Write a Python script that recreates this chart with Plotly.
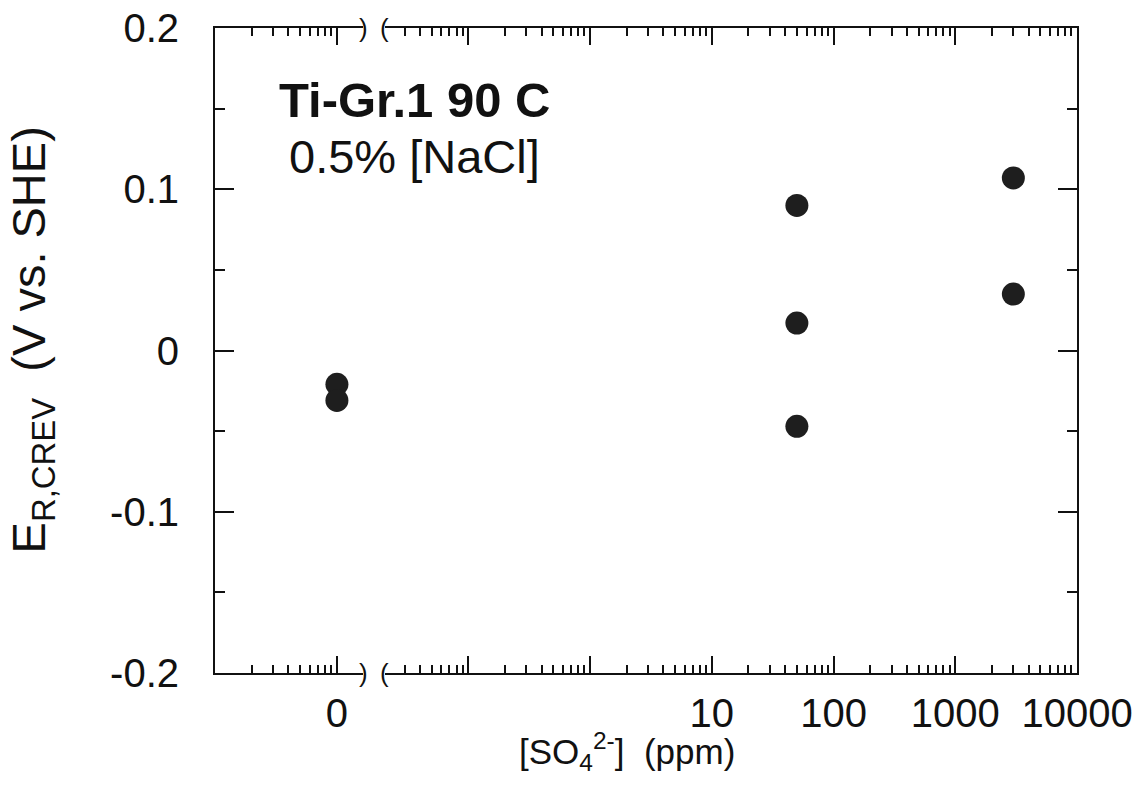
import plotly.graph_objects as go

# ---- data ----
so4_ppm = [0, 0, 50, 50, 50, 3000, 3000]
e_rcrev = [-0.021, -0.031, 0.090, 0.017, -0.047, 0.107, 0.035]

x_tick_vals = [0.1, 1, 10, 100, 1000, 10000]
x_tick_text = ["", "", "10", "100", "1000", "10000"]
y_tick_vals = [-0.2, -0.1, 0, 0.1, 0.2]
y_tick_text = ["-0.2", "-0.1", "0", "0.1", "0.2"]
ZERO_POS = 1e-3  # position of "0 ppm" on the left (broken) log segment

FONT = "Liberation Sans, Arial, Helvetica, sans-serif"
INK = "#111111"

x_zero = [ZERO_POS for c in so4_ppm if c == 0]
y_zero = [e for c, e in zip(so4_ppm, e_rcrev) if c == 0]
x_pos = [c for c in so4_ppm if c > 0]
y_pos = [e for c, e in zip(so4_ppm, e_rcrev) if c > 0]

marker = dict(size=23, color="#1e1e1e", line=dict(width=0))

fig = go.Figure()
fig.add_trace(go.Scatter(x=x_zero, y=y_zero, mode="markers", marker=marker,
                         xaxis="x", yaxis="y", showlegend=False))
fig.add_trace(go.Scatter(x=x_pos, y=y_pos, mode="markers", marker=marker,
                         xaxis="x2", yaxis="y2", showlegend=False))

# geometry of the broken axis (fractions of the plot area)
BREAK_L = 0.1717
BREAK_R = 0.197

def minor_vals(lo, hi):
    out = []
    for d in range(lo, hi):
        for k in range(2, 10):
            out.append(k * 10 ** d)
    return out

common_x = dict(type="log", showline=True, linecolor=INK, linewidth=2,
                mirror="allticks", ticks="inside", ticklen=17, tickwidth=2,
                tickcolor=INK, showgrid=False, zeroline=False, automargin=False,
                tickfont=dict(family=FONT, size=40, color=INK),
                ticklabelstandoff=4)

fig.update_layout(
    width=1136, height=797,
    margin=dict(l=215, r=59, t=28, b=124),
    paper_bgcolor="white", plot_bgcolor="white",
    xaxis=dict(domain=[0, BREAK_L], range=[-4.0, -2.786], anchor="y",
               tickmode="array", tickvals=[ZERO_POS], ticktext=["0"],
               minor=dict(tickmode="array", tickvals=minor_vals(-4, -2),
                          ticks="inside", ticklen=8, tickwidth=1.5, tickcolor=INK,
                          showgrid=False),
               **common_x),
    xaxis2=dict(domain=[BREAK_R, 1], range=[-1.686, 4.0], anchor="y2",
                tickmode="array", tickvals=x_tick_vals, ticktext=x_tick_text,
                minor=dict(tickmode="array", tickvals=minor_vals(-2, 4),
                           ticks="inside", ticklen=8, tickwidth=1.5, tickcolor=INK,
                           showgrid=False),
                **common_x),
    yaxis=dict(domain=[0, 1], range=[-0.2, 0.2], anchor="x",
               showline=True, linecolor=INK, linewidth=2, mirror=False,
               ticks="inside", ticklen=19, tickwidth=2, tickcolor=INK,
               tickmode="array", tickvals=y_tick_vals, ticktext=y_tick_text,
               minor=dict(dtick=0.05, ticks="inside", ticklen=10, tickwidth=1.5,
                          tickcolor=INK, showgrid=False),
               showgrid=False, zeroline=False, automargin=False,
               tickfont=dict(family=FONT, size=40, color=INK),
               ticklabelstandoff=26),
    yaxis2=dict(domain=[0, 1], range=[-0.2, 0.2], anchor="x2", side="right",
                matches="y",
                showline=True, linecolor=INK, linewidth=2, mirror=False,
                ticks="inside", ticklen=19, tickwidth=2, tickcolor=INK,
                tickmode="array", tickvals=y_tick_vals, showticklabels=False,
                minor=dict(dtick=0.05, ticks="inside", ticklen=10, tickwidth=1.5,
                           tickcolor=INK, showgrid=False),
                showgrid=False, zeroline=False, automargin=False),
    font=dict(family=FONT, color=INK),
)

# break marks
for yy in (0, 1):
    fig.add_annotation(x=BREAK_L, y=yy, xref="paper", yref="paper", text=")",
                       showarrow=False, font=dict(family=FONT, size=26, color=INK),
                       xanchor="center", yanchor="middle")
    fig.add_annotation(x=BREAK_R, y=yy, xref="paper", yref="paper", text="(",
                       showarrow=False, font=dict(family=FONT, size=26, color=INK),
                       xanchor="center", yanchor="middle")

# in-plot labels
fig.add_annotation(x=0.231, y=0.888, xref="paper", yref="paper",
                   text="<b>Ti-Gr.1 90 C</b>", showarrow=False,
                   font=dict(family=FONT, size=49, color=INK),
                   xanchor="center", yanchor="middle")
fig.add_annotation(x=0.231, y=0.80, xref="paper", yref="paper",
                   text="0.5% [NaCl]", showarrow=False,
                   font=dict(family=FONT, size=47, color=INK),
                   xanchor="center", yanchor="middle")

# axis titles
fig.add_annotation(x=-0.212, y=0.516, xref="paper", yref="paper",
                   text="E<sub>R,CREV</sub>  (V vs. SHE)", textangle=-90,
                   showarrow=False, font=dict(family=FONT, size=47, color=INK),
                   xanchor="center", yanchor="middle")
fig.add_annotation(x=0.478, y=-0.121, xref="paper", yref="paper",
                   text="[SO<sub>4</sub><sup>2-</sup>]  (ppm)",
                   showarrow=False, font=dict(family=FONT, size=35, color=INK),
                   xanchor="center", yanchor="middle")

fig.write_html("out.html")
